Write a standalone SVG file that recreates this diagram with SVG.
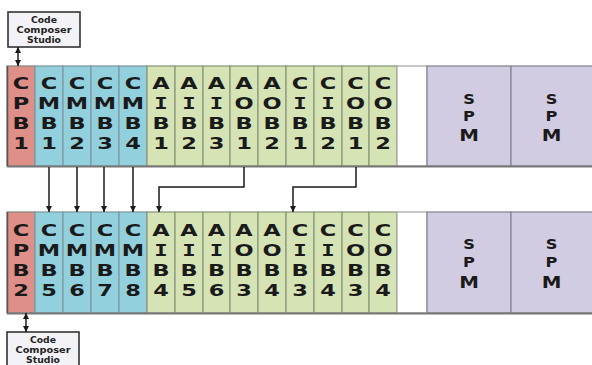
<svg xmlns="http://www.w3.org/2000/svg" width="592" height="365" viewBox="0 0 592 365">
<defs>
<marker id="ah" viewBox="0 0 10 10" refX="10" refY="5" markerWidth="6" markerHeight="6" orient="auto-start-reverse" markerUnits="userSpaceOnUse"><path d="M0,0 L10,5 L0,10 z" fill="#1a1a1a"/></marker>
</defs>
<style>
.cpb{fill:#de8f87;stroke:#8a8a80;stroke-width:1.3}
.cmb{fill:#93d0dd;stroke:#7f9aa0;stroke-width:1.3}
.grn{fill:#d5e3b5;stroke:#8c9a7e;stroke-width:1.3}
.spm{fill:#d2cce2;stroke:#8a8896;stroke-width:1.3}
.gap{fill:#ffffff;stroke:#aaaaaa;stroke-width:1.3}
.t{font-family:"DejaVu Sans",sans-serif;font-weight:bold;font-size:15.5px;fill:#1a1a1a;text-anchor:middle}
.mi{font-family:"DejaVu Sans Mono",monospace}
.s{font-family:"DejaVu Sans",sans-serif;font-weight:bold;font-size:13.5px;fill:#1a1a1a;text-anchor:middle}
.sm{font-size:16.5px}
.box{fill:#f3f2f6;stroke:#333;stroke-width:1.6}
.bt{font-family:"DejaVu Sans",sans-serif;font-weight:bold;font-size:9px;fill:#222;text-anchor:middle}
.ln{fill:none;stroke:#1a1a1a;stroke-width:1.5}
.edge{fill:none;stroke:#777;stroke-width:1.8}
</style>

<g id="ccs-top">
<rect class="box" x="8" y="12" width="72" height="35"/>
<text class="bt" x="44" y="23" textLength="26" lengthAdjust="spacingAndGlyphs">Code</text>
<text class="bt" x="44" y="33" textLength="55" lengthAdjust="spacingAndGlyphs">Composer</text>
<text class="bt" x="44" y="43" textLength="34" lengthAdjust="spacingAndGlyphs">Studio</text>
</g>

<g id="row-top">
<g id="CPB1"><rect class="cpb" x="7" y="66" width="28" height="100"/><text class="t" transform="translate(21,0) scale(1.45,1)"><tspan x="0" y="89.5">C</tspan><tspan x="0" y="109.5">P</tspan><tspan x="0" y="129.5">B</tspan><tspan x="0" y="149.5">1</tspan></text></g>
<g id="CMB1"><rect class="cmb" x="35" y="66" width="28" height="100"/><text class="t" transform="translate(49,0) scale(1.45,1)"><tspan x="0" y="89.5">C</tspan><tspan x="0" y="109.5">M</tspan><tspan x="0" y="129.5">B</tspan><tspan x="0" y="149.5">1</tspan></text></g>
<g id="CMB2"><rect class="cmb" x="63" y="66" width="28" height="100"/><text class="t" transform="translate(77,0) scale(1.45,1)"><tspan x="0" y="89.5">C</tspan><tspan x="0" y="109.5">M</tspan><tspan x="0" y="129.5">B</tspan><tspan x="0" y="149.5">2</tspan></text></g>
<g id="CMB3"><rect class="cmb" x="91" y="66" width="28" height="100"/><text class="t" transform="translate(105,0) scale(1.45,1)"><tspan x="0" y="89.5">C</tspan><tspan x="0" y="109.5">M</tspan><tspan x="0" y="129.5">B</tspan><tspan x="0" y="149.5">3</tspan></text></g>
<g id="CMB4"><rect class="cmb" x="119" y="66" width="28" height="100"/><text class="t" transform="translate(133,0) scale(1.45,1)"><tspan x="0" y="89.5">C</tspan><tspan x="0" y="109.5">M</tspan><tspan x="0" y="129.5">B</tspan><tspan x="0" y="149.5">4</tspan></text></g>
<g id="AIB1"><rect class="grn" x="147" y="66" width="28" height="100"/><text class="t" transform="translate(161,0) scale(1.45,1)"><tspan x="0" y="89.5">A</tspan><tspan class="mi" x="0" y="109.5">I</tspan><tspan x="0" y="129.5">B</tspan><tspan x="0" y="149.5">1</tspan></text></g>
<g id="AIB2"><rect class="grn" x="175" y="66" width="28" height="100"/><text class="t" transform="translate(189,0) scale(1.45,1)"><tspan x="0" y="89.5">A</tspan><tspan class="mi" x="0" y="109.5">I</tspan><tspan x="0" y="129.5">B</tspan><tspan x="0" y="149.5">2</tspan></text></g>
<g id="AIB3"><rect class="grn" x="203" y="66" width="27" height="100"/><text class="t" transform="translate(216.5,0) scale(1.45,1)"><tspan x="0" y="89.5">A</tspan><tspan class="mi" x="0" y="109.5">I</tspan><tspan x="0" y="129.5">B</tspan><tspan x="0" y="149.5">3</tspan></text></g>
<g id="AOB1"><rect class="grn" x="230" y="66" width="28" height="100"/><text class="t" transform="translate(244,0) scale(1.45,1)"><tspan x="0" y="89.5">A</tspan><tspan x="0" y="109.5">O</tspan><tspan x="0" y="129.5">B</tspan><tspan x="0" y="149.5">1</tspan></text></g>
<g id="AOB2"><rect class="grn" x="258" y="66" width="28" height="100"/><text class="t" transform="translate(272,0) scale(1.45,1)"><tspan x="0" y="89.5">A</tspan><tspan x="0" y="109.5">O</tspan><tspan x="0" y="129.5">B</tspan><tspan x="0" y="149.5">2</tspan></text></g>
<g id="CIB1"><rect class="grn" x="286" y="66" width="28" height="100"/><text class="t" transform="translate(300,0) scale(1.45,1)"><tspan x="0" y="89.5">C</tspan><tspan class="mi" x="0" y="109.5">I</tspan><tspan x="0" y="129.5">B</tspan><tspan x="0" y="149.5">1</tspan></text></g>
<g id="CIB2"><rect class="grn" x="314" y="66" width="28" height="100"/><text class="t" transform="translate(328,0) scale(1.45,1)"><tspan x="0" y="89.5">C</tspan><tspan class="mi" x="0" y="109.5">I</tspan><tspan x="0" y="129.5">B</tspan><tspan x="0" y="149.5">2</tspan></text></g>
<g id="COB1"><rect class="grn" x="342" y="66" width="27" height="100"/><text class="t" transform="translate(355.5,0) scale(1.45,1)"><tspan x="0" y="89.5">C</tspan><tspan x="0" y="109.5">O</tspan><tspan x="0" y="129.5">B</tspan><tspan x="0" y="149.5">1</tspan></text></g>
<g id="COB2"><rect class="grn" x="369" y="66" width="28" height="100"/><text class="t" transform="translate(383,0) scale(1.45,1)"><tspan x="0" y="89.5">C</tspan><tspan x="0" y="109.5">O</tspan><tspan x="0" y="129.5">B</tspan><tspan x="0" y="149.5">2</tspan></text></g>
<g id="GAP1"><rect class="gap" x="397" y="66" width="30" height="100"/></g>
<g id="SPM1"><rect class="spm" x="427" y="66" width="84" height="100"/><text class="s" transform="translate(469,0) scale(1.2,1)"><tspan x="0" y="104">S</tspan><tspan x="0" y="121">P</tspan><tspan class="sm" x="0" y="141">M</tspan></text></g>
<g id="SPM2"><rect class="spm" x="511" y="66" width="84" height="100"/><text class="s" transform="translate(551.5,0) scale(1.2,1)"><tspan x="0" y="104">S</tspan><tspan x="0" y="121">P</tspan><tspan class="sm" x="0" y="141">M</tspan></text></g>
<path class="edge" d="M7,166.5 H592"/>
<path d="M7.5,66 V166" stroke="#555" stroke-width="1.5"/>
</g>

<g id="row-bottom">
<g id="CPB2"><rect class="cpb" x="7" y="212" width="28" height="101"/><text class="t" transform="translate(21,0) scale(1.45,1)"><tspan x="0" y="236.5">C</tspan><tspan x="0" y="256.5">P</tspan><tspan x="0" y="276.5">B</tspan><tspan x="0" y="296.5">2</tspan></text></g>
<g id="CMB5"><rect class="cmb" x="35" y="212" width="28" height="101"/><text class="t" transform="translate(49,0) scale(1.45,1)"><tspan x="0" y="236.5">C</tspan><tspan x="0" y="256.5">M</tspan><tspan x="0" y="276.5">B</tspan><tspan x="0" y="296.5">5</tspan></text></g>
<g id="CMB6"><rect class="cmb" x="63" y="212" width="28" height="101"/><text class="t" transform="translate(77,0) scale(1.45,1)"><tspan x="0" y="236.5">C</tspan><tspan x="0" y="256.5">M</tspan><tspan x="0" y="276.5">B</tspan><tspan x="0" y="296.5">6</tspan></text></g>
<g id="CMB7"><rect class="cmb" x="91" y="212" width="28" height="101"/><text class="t" transform="translate(105,0) scale(1.45,1)"><tspan x="0" y="236.5">C</tspan><tspan x="0" y="256.5">M</tspan><tspan x="0" y="276.5">B</tspan><tspan x="0" y="296.5">7</tspan></text></g>
<g id="CMB8"><rect class="cmb" x="119" y="212" width="28" height="101"/><text class="t" transform="translate(133,0) scale(1.45,1)"><tspan x="0" y="236.5">C</tspan><tspan x="0" y="256.5">M</tspan><tspan x="0" y="276.5">B</tspan><tspan x="0" y="296.5">8</tspan></text></g>
<g id="AIB4"><rect class="grn" x="147" y="212" width="28" height="101"/><text class="t" transform="translate(161,0) scale(1.45,1)"><tspan x="0" y="236.5">A</tspan><tspan class="mi" x="0" y="256.5">I</tspan><tspan x="0" y="276.5">B</tspan><tspan x="0" y="296.5">4</tspan></text></g>
<g id="AIB5"><rect class="grn" x="175" y="212" width="28" height="101"/><text class="t" transform="translate(189,0) scale(1.45,1)"><tspan x="0" y="236.5">A</tspan><tspan class="mi" x="0" y="256.5">I</tspan><tspan x="0" y="276.5">B</tspan><tspan x="0" y="296.5">5</tspan></text></g>
<g id="AIB6"><rect class="grn" x="203" y="212" width="27" height="101"/><text class="t" transform="translate(216.5,0) scale(1.45,1)"><tspan x="0" y="236.5">A</tspan><tspan class="mi" x="0" y="256.5">I</tspan><tspan x="0" y="276.5">B</tspan><tspan x="0" y="296.5">6</tspan></text></g>
<g id="AOB3"><rect class="grn" x="230" y="212" width="28" height="101"/><text class="t" transform="translate(244,0) scale(1.45,1)"><tspan x="0" y="236.5">A</tspan><tspan x="0" y="256.5">O</tspan><tspan x="0" y="276.5">B</tspan><tspan x="0" y="296.5">3</tspan></text></g>
<g id="AOB4"><rect class="grn" x="258" y="212" width="28" height="101"/><text class="t" transform="translate(272,0) scale(1.45,1)"><tspan x="0" y="236.5">A</tspan><tspan x="0" y="256.5">O</tspan><tspan x="0" y="276.5">B</tspan><tspan x="0" y="296.5">4</tspan></text></g>
<g id="CIB3"><rect class="grn" x="286" y="212" width="28" height="101"/><text class="t" transform="translate(300,0) scale(1.45,1)"><tspan x="0" y="236.5">C</tspan><tspan class="mi" x="0" y="256.5">I</tspan><tspan x="0" y="276.5">B</tspan><tspan x="0" y="296.5">3</tspan></text></g>
<g id="CIB4"><rect class="grn" x="314" y="212" width="28" height="101"/><text class="t" transform="translate(328,0) scale(1.45,1)"><tspan x="0" y="236.5">C</tspan><tspan class="mi" x="0" y="256.5">I</tspan><tspan x="0" y="276.5">B</tspan><tspan x="0" y="296.5">4</tspan></text></g>
<g id="COB3"><rect class="grn" x="342" y="212" width="27" height="101"/><text class="t" transform="translate(355.5,0) scale(1.45,1)"><tspan x="0" y="236.5">C</tspan><tspan x="0" y="256.5">O</tspan><tspan x="0" y="276.5">B</tspan><tspan x="0" y="296.5">3</tspan></text></g>
<g id="COB4"><rect class="grn" x="369" y="212" width="28" height="101"/><text class="t" transform="translate(383,0) scale(1.45,1)"><tspan x="0" y="236.5">C</tspan><tspan x="0" y="256.5">O</tspan><tspan x="0" y="276.5">B</tspan><tspan x="0" y="296.5">4</tspan></text></g>
<g id="GAP2"><rect class="gap" x="397" y="212" width="30" height="101"/></g>
<g id="SPM3"><rect class="spm" x="427" y="212" width="84" height="101"/><text class="s" transform="translate(469,0) scale(1.2,1)"><tspan x="0" y="249">S</tspan><tspan x="0" y="267">P</tspan><tspan class="sm" x="0" y="288">M</tspan></text></g>
<g id="SPM4"><rect class="spm" x="511" y="212" width="84" height="101"/><text class="s" transform="translate(551.5,0) scale(1.2,1)"><tspan x="0" y="249">S</tspan><tspan x="0" y="267">P</tspan><tspan class="sm" x="0" y="288">M</tspan></text></g>
<path class="edge" d="M7,313.5 H592"/>
<path d="M7.5,212 V313" stroke="#555" stroke-width="1.5"/>
</g>

<g id="ccs-bottom">
<rect class="box" x="7" y="332" width="72" height="40"/>
<text class="bt" x="43" y="343" textLength="26" lengthAdjust="spacingAndGlyphs">Code</text>
<text class="bt" x="43" y="353" textLength="55" lengthAdjust="spacingAndGlyphs">Composer</text>
<text class="bt" x="43" y="363" textLength="34" lengthAdjust="spacingAndGlyphs">Studio</text>
</g>

<g id="connectors">
<path class="ln" d="M18,47 V66" marker-start="url(#ah)" marker-end="url(#ah)"/>
<path class="ln" d="M26,313 V332" marker-start="url(#ah)" marker-end="url(#ah)"/>
<path class="ln" d="M49,167 V212" marker-end="url(#ah)"/>
<path class="ln" d="M77,167 V212" marker-end="url(#ah)"/>
<path class="ln" d="M104,167 V212" marker-end="url(#ah)"/>
<path class="ln" d="M133,167 V212" marker-end="url(#ah)"/>
<path class="ln" d="M244,167 V187 H159 V212" marker-end="url(#ah)"/>
<path class="ln" d="M356,167 V187 H293 V212" marker-end="url(#ah)"/>
</g>
</svg>
